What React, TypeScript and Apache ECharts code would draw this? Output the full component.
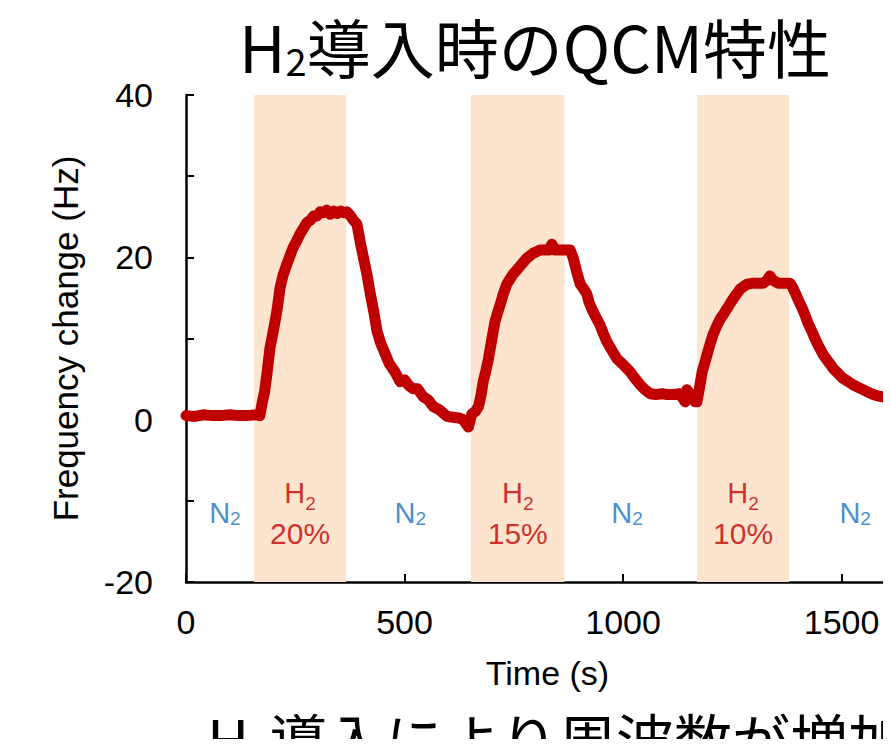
import React, { useEffect, useRef } from "react";
import * as echarts from "echarts";

// Time (s) and frequency change (Hz)
const timeS = [
  0, 20, 40, 60, 80, 100, 120, 140, 160, 169,
  174, 180, 186, 192, 200, 208, 215, 222, 231, 238, 245, 253, 261, 269, 277, 285, 292, 300, 307, 314, 322, 330, 338, 346, 354, 362, 368,
  375, 383, 391, 400, 407, 414, 422, 430, 437, 445, 455, 465, 478, 490, 500, 510, 520, 530, 543, 555, 566, 580, 597, 610, 625, 634, 646,
  654, 662, 669, 675, 680, 686, 692, 700, 707, 713, 719, 726, 734, 741, 748, 756, 764, 772, 780, 787, 794, 802, 810, 820, 830, 837, 845, 855, 865, 879,
  886, 894, 902, 910, 917, 922, 928, 938, 947, 955, 963, 975, 986, 1000, 1016, 1027, 1039, 1050, 1062, 1075, 1090, 1100, 1115, 1130, 1142, 1146, 1155, 1165, 1169,
  1175, 1181, 1187, 1192, 1199, 1206, 1214, 1222, 1230, 1238, 1245, 1252, 1260, 1268, 1276, 1284, 1295, 1307, 1320, 1330, 1336, 1342, 1355, 1370, 1382,
  1388, 1394, 1402, 1410, 1417, 1423, 1431, 1439, 1448, 1458, 1470, 1481, 1492, 1503, 1515, 1526, 1537, 1549, 1560, 1572, 1585, 1595, 1605, 1613,
];
const freqHz = [
  0.5, 0.4, 0.6, 0.5, 0.5, 0.6, 0.5, 0.5, 0.6, 0.5,
  2.0, 3.5, 6.0, 8.8, 11.0, 13.4, 16.2, 17.8, 19.2, 20.2, 21.2, 22.0, 22.9, 23.6, 24.3, 24.6, 25.1, 25.1, 25.6, 25.5, 25.8, 25.3, 25.7, 25.4, 25.7, 25.5, 25.6,
  25.2, 24.6, 24.1, 21.5, 19.7, 17.9, 15.4, 13.2, 10.9, 9.5, 8.2, 6.9, 5.9, 4.7, 4.9, 4.2, 3.8, 3.8, 2.8, 2.4, 1.6, 1.2, 0.4, 0.3, 0.2, 0.0, -0.9,
  0.7, 1.0, 1.6, 3.0, 4.7, 6.0, 7.5, 10.0, 12.1, 13.2, 14.2, 15.5, 16.7, 17.3, 17.9, 18.4, 18.9, 19.4, 19.9, 20.2, 20.5, 20.7, 20.9, 20.9, 20.9, 21.6, 20.9, 20.9, 20.9, 20.9,
  19.9, 18.2, 16.7, 16.1, 15.5, 14.5, 13.7, 12.6, 11.7, 10.6, 9.6, 8.5, 7.5, 6.8, 5.9, 5.1, 4.3, 3.7, 3.2, 3.1, 3.2, 3.1, 3.1, 3.2, 2.2, 3.7, 3.0, 2.2, 2.2,
  4.0, 5.9, 7.0, 8.0, 9.3, 10.5, 11.5, 12.4, 13.0, 13.7, 14.3, 14.9, 15.5, 16.1, 16.4, 16.7, 16.8, 16.8, 16.8, 17.2, 17.7, 17.2, 16.8, 16.8, 16.8,
  16.3, 15.6, 14.6, 13.7, 12.8, 11.9, 11.0, 10.0, 9.0, 8.0, 7.1, 6.3, 5.7, 5.1, 4.7, 4.3, 4.0, 3.7, 3.4, 3.1, 2.9, 2.8, 2.8, 3.1,
];

// H2 exposure windows (s) and concentrations
const h2BandStart = [156, 652, 1169];
const h2BandEnd = [366, 866, 1380];
const h2Percent = ["20%", "15%", "10%"];
// N2 label positions (s)
const n2LabelTimes = [89, 513, 1009, 1531];
const gasLabelLevel = -11.5;

const titleMain = "導入時のQCM特性";
const subtitleMain = "導入により周波数が増加";
const yAxisName = "Frequency change (Hz)";
const xAxisName = "Time (s)";

const LATIN = "'Liberation Sans', Arial, sans-serif";
const CJK = "'Noto Sans CJK JP', sans-serif";

export default function App() {
  const ref = useRef<HTMLDivElement>(null);
  useEffect(() => {
    if (!ref.current) return;
    const chart = echarts.init(ref.current, null, { renderer: "svg" });

    const lineData = timeS.map((t, i) => [t, freqHz[i]]);

    const labelData: any[] = [];
    n2LabelTimes.forEach((t) => {
      labelData.push({
        value: [t, gasLabelLevel],
        label: { formatter: "{n|N}{ns|2}" },
      });
    });
    h2BandStart.forEach((s, i) => {
      labelData.push({
        value: [(s + h2BandEnd[i]) / 2, gasLabelLevel],
        label: { formatter: "{h|H}{hs|2}\n{p|" + h2Percent[i] + "}" },
      });
    });

    const red = "#C00000";
    const labRed = "#C00000";
    const blue = "#1570C4";

    chart.setOption({
      animation: false,
      backgroundColor: "#ffffff",
      title: [
        {
          text: "{h|H}{s|2}{h|" + titleMain + "}",
          left: 234,
          top: 6,
          textStyle: {
            fontWeight: "normal",
            rich: {
              h: { fontFamily: CJK, fontSize: 64, fontWeight: "normal", lineHeight: 68, color: "#000" },
              s: { fontFamily: CJK, fontSize: 38, fontWeight: "normal", lineHeight: 24, verticalAlign: "bottom", color: "#000" },
            },
          },
        },
        {
          text: "{h|H}{s|2}{h|" + subtitleMain + "}",
          left: 202,
          top: 702,
          textStyle: {
            fontWeight: "normal",
            rich: {
              h: { fontFamily: CJK, fontSize: 58, fontWeight: "normal", lineHeight: 62, color: "#000" },
              s: { fontFamily: CJK, fontSize: 36, fontWeight: "normal", lineHeight: 22, verticalAlign: "bottom", color: "#000" },
            },
          },
        },
      ],
      grid: { left: 186, right: 0, top: 95, bottom: 165, containLabel: false },
      xAxis: {
        type: "value",
        min: 0,
        max: 1613,
        interval: 500,
        name: xAxisName,
        nameLocation: "middle",
        nameGap: 74,
        nameTextStyle: { fontFamily: LATIN, fontSize: 34, color: "#000", padding: [0, 0, 0, 18] },
        axisLine: { show: true, onZero: false, lineStyle: { color: "#000", width: 2.5 } },
        axisTick: { show: true, inside: true, length: 8, lineStyle: { color: "#000", width: 2 } },
        axisLabel: {
          margin: 23,
          fontFamily: LATIN,
          fontSize: 34,
          color: "#000",
          showMaxLabel: false,
          formatter: (v: number) => (v % 500 === 0 ? String(v) : ""),
        },
        splitLine: { show: false },
      },
      yAxis: {
        type: "value",
        min: -20,
        max: 40,
        interval: 10,
        name: yAxisName,
        nameLocation: "middle",
        nameGap: 103,
        nameTextStyle: { fontFamily: LATIN, fontSize: 35, color: "#000" },
        axisLine: { show: true, lineStyle: { color: "#000", width: 2.5 } },
        axisTick: { show: true, inside: true, length: 8, lineStyle: { color: "#000", width: 2 } },
        axisLabel: {
          margin: 33,
          fontFamily: LATIN,
          fontSize: 34,
          color: "#000",
          formatter: (v: number) => (v % 20 === 0 ? String(v) : ""),
        },
        splitLine: { show: false },
      },
      series: [
        {
          type: "line",
          z: 1,
          data: [],
          silent: true,
          markArea: {
            silent: true,
            itemStyle: { color: "#FCE4CF" },
            data: h2BandStart.map((s, i) => [{ xAxis: s }, { xAxis: h2BandEnd[i] }]),
          },
        },
        {
          type: "line",
          z: 3,
          data: lineData,
          showSymbol: false,
          symbol: "none",
          lineStyle: { color: red, width: 11, join: "round", cap: "round" },
        },
        {
          type: "scatter",
          z: 4,
          symbolSize: 0,
          silent: true,
          data: labelData,
          label: {
            show: true,
            position: "inside",
            align: "center",
            verticalAlign: "middle",
            rich: {
              n: { fontFamily: LATIN, fontSize: 29, color: blue, lineHeight: 30 },
              ns: { fontFamily: LATIN, fontSize: 19, color: blue, verticalAlign: "bottom", lineHeight: 16 },
              h: { fontFamily: LATIN, fontSize: 29, color: labRed, lineHeight: 40 },
              hs: { fontFamily: LATIN, fontSize: 19, color: labRed, verticalAlign: "bottom", lineHeight: 22 },
              p: { fontFamily: LATIN, fontSize: 30, color: labRed, lineHeight: 40 },
            },
          },
        },
      ],
    });
    return () => chart.dispose();
  }, []);

  return <div ref={ref} style={{ width: 891, height: 747, margin: -8 }} />;
}
